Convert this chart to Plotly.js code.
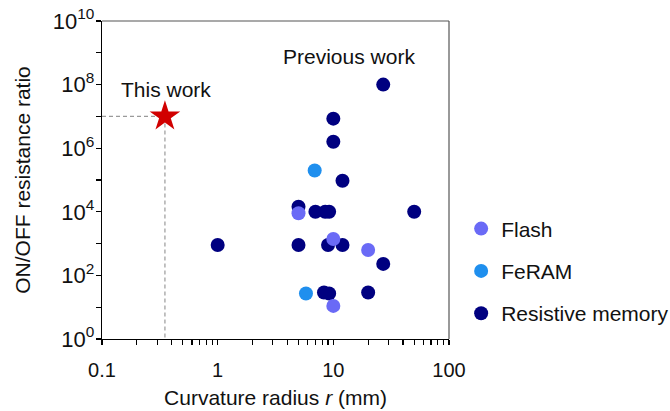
<!DOCTYPE html>
<html>
<head>
<meta charset="utf-8">
<script src="https://cdn.plot.ly/plotly-3.0.1.min.js"></script>
<style>html,body{margin:0;padding:0;background:#fff;}#chart{width:670px;height:411px;}</style>
</head>
<body>
<div id="chart"></div>
<script>
// Data
const flashX = [5, 10, 20, 10];
const flashY = [9000, 1400, 630, 11];
const feramX = [6.9, 5.8];
const feramY = [200000, 27];
const resistiveX = [27, 10, 10, 12, 5, 7, 8.5, 9.2, 50, 1, 5, 9, 12, 27, 8.3, 9.2, 20];
const resistiveY = [1e8, 8.5e6, 1.6e6, 9.5e4, 1.45e4, 1e4, 1e4, 1e4, 1e4, 900, 900, 900, 900, 230, 29, 27, 29];
const thisWorkX = [0.35];
const thisWorkY = [1e7];
const yTickVals = [1, 100, 1e4, 1e6, 1e8, 1e10];
const yTickText = ['10<sup>0</sup>', '10<sup>2</sup>', '10<sup>4</sup>', '10<sup>6</sup>', '10<sup>8</sup>', '10<sup>10</sup>'];
const yMinorVals = [10, 1e3, 1e5, 1e7, 1e9];
const xTickVals = [0.1, 1, 10, 100];
const xTickText = ['0.1', '1', '10', '100'];
const xMin = 0.1, yMin = 1;

const font = 'Liberation Sans, Arial, sans-serif';
const txt = '#111';
const msize = 14;

const traces = [
  { x: [xMin, thisWorkX[0], thisWorkX[0]], y: [thisWorkY[0], thisWorkY[0], yMin], mode: 'lines',
    line: { color: '#9a9a9a', width: 1.2, dash: '4px,3px' }, showlegend: false, hoverinfo: 'skip' },
  { x: resistiveX, y: resistiveY, mode: 'markers', name: 'Resistive memory', legendrank: 3, legendgroup: 'c',
    marker: { color: '#000080', size: msize } },
  { x: feramX, y: feramY, mode: 'markers', name: 'FeRAM', legendrank: 2, legendgroup: 'b',
    marker: { color: '#1f8fee', size: msize } },
  { x: flashX, y: flashY, mode: 'markers', name: 'Flash', legendrank: 1, legendgroup: 'a',
    marker: { color: '#6a6af6', size: msize } },
  { x: thisWorkX, y: thisWorkY, mode: 'markers', name: 'This work', showlegend: false,
    marker: { color: '#d10000', size: 23, symbol: 'star' } }
];

const layout = {
  width: 670, height: 411,
  margin: { l: 102, r: 221, t: 21, b: 72, autoexpand: false },
  paper_bgcolor: '#ffffff', plot_bgcolor: '#ffffff',
  font: { family: font, size: 21, color: txt },
  xaxis: {
    type: 'log', range: [-1, 2], showgrid: false, zeroline: false,
    showline: true, linecolor: '#000', linewidth: 1.3,
    tickvals: xTickVals, ticktext: xTickText, ticks: 'outside', ticklen: 5, tickcolor: '#000', tickwidth: 1.2,
    ticklabelstandoff: 8,
    minor: { ticks: 'outside', ticklen: 5, tickcolor: '#000', tickwidth: 1.2, dtick: 'D1', showgrid: false },
    tickfont: { size: 20, family: font, color: txt },
    title: { text: 'Curvature radius <i>r</i> (mm)', font: { size: 21, family: font, color: txt }, standoff: 10 }
  },
  yaxis: {
    type: 'log', range: [0, 10], showgrid: false, zeroline: false,
    showline: true, linecolor: '#000', linewidth: 1.3,
    tickvals: yTickVals, ticktext: yTickText, ticks: 'outside', ticklen: 5, tickcolor: '#000', tickwidth: 1.2,
    ticklabelstandoff: -3,
    minor: { ticks: 'outside', ticklen: 5, tickcolor: '#000', tickwidth: 1.2, tickmode: 'array', tickvals: yMinorVals, showgrid: false },
    tickfont: { size: 22, family: font, color: txt },
    title: { text: 'ON/OFF resistance ratio', font: { size: 21, family: font, color: txt }, standoff: 16 }
  },
  showlegend: true,
  legend: {
    x: 1.035, y: 0.214, xanchor: 'left', yanchor: 'middle',
    font: { size: 21, family: font, color: txt },
    tracegroupgap: 12, itemwidth: 30, bgcolor: 'rgba(0,0,0,0)'
  },
  shapes: [
    { type: 'line', xref: 'paper', yref: 'paper', x0: 0, x1: 1, y0: 1, y1: 1, line: { color: '#555', width: 1.2 } },
    { type: 'line', xref: 'paper', yref: 'paper', x0: 1, x1: 1, y0: 0, y1: 1, line: { color: '#555', width: 1.2 } }
  ],
  annotations: [
    { x: Math.log10(0.355), y: 7.86, xref: 'x', yref: 'y', text: 'This work', showarrow: false,
      font: { size: 21, family: font, color: txt } },
    { x: Math.log10(13.6), y: 8.87, xref: 'x', yref: 'y', text: 'Previous work', showarrow: false,
      font: { size: 21, family: font, color: txt } }
  ]
};

Plotly.newPlot('chart', traces, layout, { displayModeBar: false, staticPlot: true });
</script>
</body>
</html>
